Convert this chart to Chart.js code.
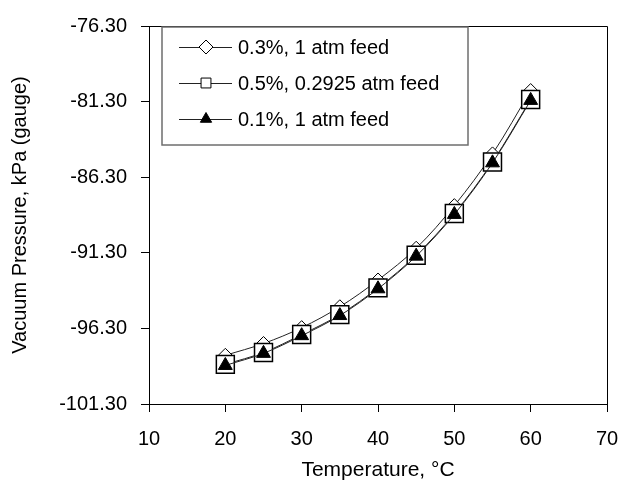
<!DOCTYPE html>
<html>
<head>
<meta charset="utf-8">
<script src="https://cdn.jsdelivr.net/npm/chart.js@4"></script>
<style>
  html, body { margin: 0; padding: 0; background: #fff; }
</style>
</head>
<body>
<canvas id="chart" width="624" height="486"></canvas>
<script>
// Data
const temperatures = [20, 25, 30, 35, 40, 45, 50, 55, 60];
const feed03 = [-98.08, -97.30, -96.25, -94.87, -93.10, -91.00, -88.18, -84.76, -80.57];
const feed05 = [-98.68, -97.89, -96.71, -95.39, -93.62, -91.46, -88.70, -85.29, -81.16];
const feed01 = [-98.75, -97.95, -96.78, -95.45, -93.68, -91.52, -88.76, -85.35, -81.22];
const seriesNames = ['0.3%, 1 atm feed', '0.5%, 0.2925 atm feed', '0.1%, 1 atm feed'];
const xTicks = [10, 20, 30, 40, 50, 60, 70];
const yTicks = [-101.3, -96.3, -91.3, -86.3, -81.3, -76.3];

const FONT = 'Liberation Sans, Arial, sans-serif';

function points(ys) {
    return temperatures.map((t, i) => ({ x: t, y: ys[i] }));
}

// Top/right border of the plot box
const framePlugin = {
    id: 'frame',
    beforeDatasetsDraw(chart) {
        const { ctx, chartArea: a } = chart;
        ctx.save();
        ctx.strokeStyle = '#000';
        ctx.lineWidth = 1;
        ctx.beginPath();
        ctx.moveTo(a.left, a.top + 0.5);
        ctx.lineTo(a.right + 0.5, a.top + 0.5);
        ctx.lineTo(a.right + 0.5, a.bottom);
        ctx.stroke();
        ctx.restore();
    }
};

// Excel-style legend box with line + marker samples
const legendPlugin = {
    id: 'boxLegend',
    afterDatasetsDraw(chart) {
        const ctx = chart.ctx;
        const box = { x: 162, y: 27, w: 306, h: 118 };
        const rowY = [47, 83, 119];
        const legendRadius = [7, 7, 6.5];
        ctx.save();
        ctx.fillStyle = '#fff';
        ctx.fillRect(box.x, box.y, box.w, box.h);
        ctx.strokeStyle = '#6e6e6e';
        ctx.lineWidth = 1.5;
        ctx.strokeRect(box.x, box.y, box.w, box.h);

        chart.data.datasets.forEach((ds, i) => {
            const y = rowY[i];
            ctx.strokeStyle = '#222';
            ctx.lineWidth = 1;
            ctx.beginPath();
            ctx.moveTo(179, y + 0.5);
            ctx.lineTo(232, y + 0.5);
            ctx.stroke();
            ctx.fillStyle = ds.pointBackgroundColor;
            ctx.strokeStyle = ds.pointBorderColor;
            ctx.lineWidth = 1;
            Chart.helpers.drawPoint(ctx, {
                pointStyle: ds.pointStyle, radius: legendRadius[i], borderWidth: 1, rotation: 0
            }, 206, y);
            ctx.fillStyle = '#000';
            ctx.font = '20px ' + FONT;
            ctx.textBaseline = 'middle';
            ctx.fillText(ds.label, 238, y + 1);
        });
        ctx.restore();
    }
};

new Chart(document.getElementById('chart'), {
    type: 'line',
    data: {
        datasets: [
            {
                label: seriesNames[0], data: points(feed03), order: 3,
                borderColor: '#222', borderWidth: 1, tension: 0.35,
                pointStyle: 'rectRot', pointRadius: 7,
                pointBackgroundColor: '#fff', pointBorderColor: '#000', pointBorderWidth: 1
            },
            {
                label: seriesNames[1], data: points(feed05), order: 2,
                borderColor: '#222', borderWidth: 1, tension: 0.35,
                pointStyle: 'rect', pointRadius: 12.7,
                pointBackgroundColor: '#fff', pointBorderColor: '#000', pointBorderWidth: 1.5
            },
            {
                label: seriesNames[2], data: points(feed01), order: 1,
                borderColor: '#222', borderWidth: 1, tension: 0.35,
                pointStyle: 'triangle', pointRadius: 8,
                pointBackgroundColor: '#000', pointBorderColor: '#000', pointBorderWidth: 1
            }
        ]
    },
    options: {
        responsive: false,
        animation: false,
        devicePixelRatio: 1,
        layout: { padding: { top: 23, right: 17, left: 0, bottom: 0 } },
        plugins: { legend: { display: false }, tooltip: { enabled: false } },
        scales: {
            x: {
                type: 'linear', min: 10, max: 70,
                afterBuildTicks: s => { s.ticks = xTicks.map(v => ({ value: v })); },
                afterFit: s => { s.height = 82; s.paddingLeft = 0; s.paddingRight = 0; },
                grid: { drawOnChartArea: false, drawTicks: true, tickLength: 8, color: '#000' },
                border: { color: '#000', width: 1 },
                ticks: { color: '#000', font: { family: FONT, size: 20 }, padding: 15, maxRotation: 0 },
                title: {
                    display: true, text: 'Temperature, \u00B0C', color: '#000',
                    font: { family: FONT, size: 21 }, padding: { top: 0, bottom: 3 }
                }
            },
            y: {
                type: 'linear', min: -101.3, max: -76.3,
                afterBuildTicks: s => { s.ticks = yTicks.map(v => ({ value: v })); },
                afterFit: s => { s.width = 149; },
                grid: { drawOnChartArea: false, drawTicks: true, tickLength: 8, color: '#000' },
                border: { color: '#000', width: 1 },
                ticks: {
                    color: '#000', font: { family: FONT, size: 20 }, padding: 14,
                    callback: v => v.toFixed(2)
                },
                title: {
                    display: true, text: 'Vacuum Pressure, kPa (gauge)', color: '#000',
                    font: { family: FONT, size: 20 }, padding: { top: 8, bottom: 0 }
                }
            }
        }
    },
    plugins: [framePlugin, legendPlugin]
});
</script>
</body>
</html>
